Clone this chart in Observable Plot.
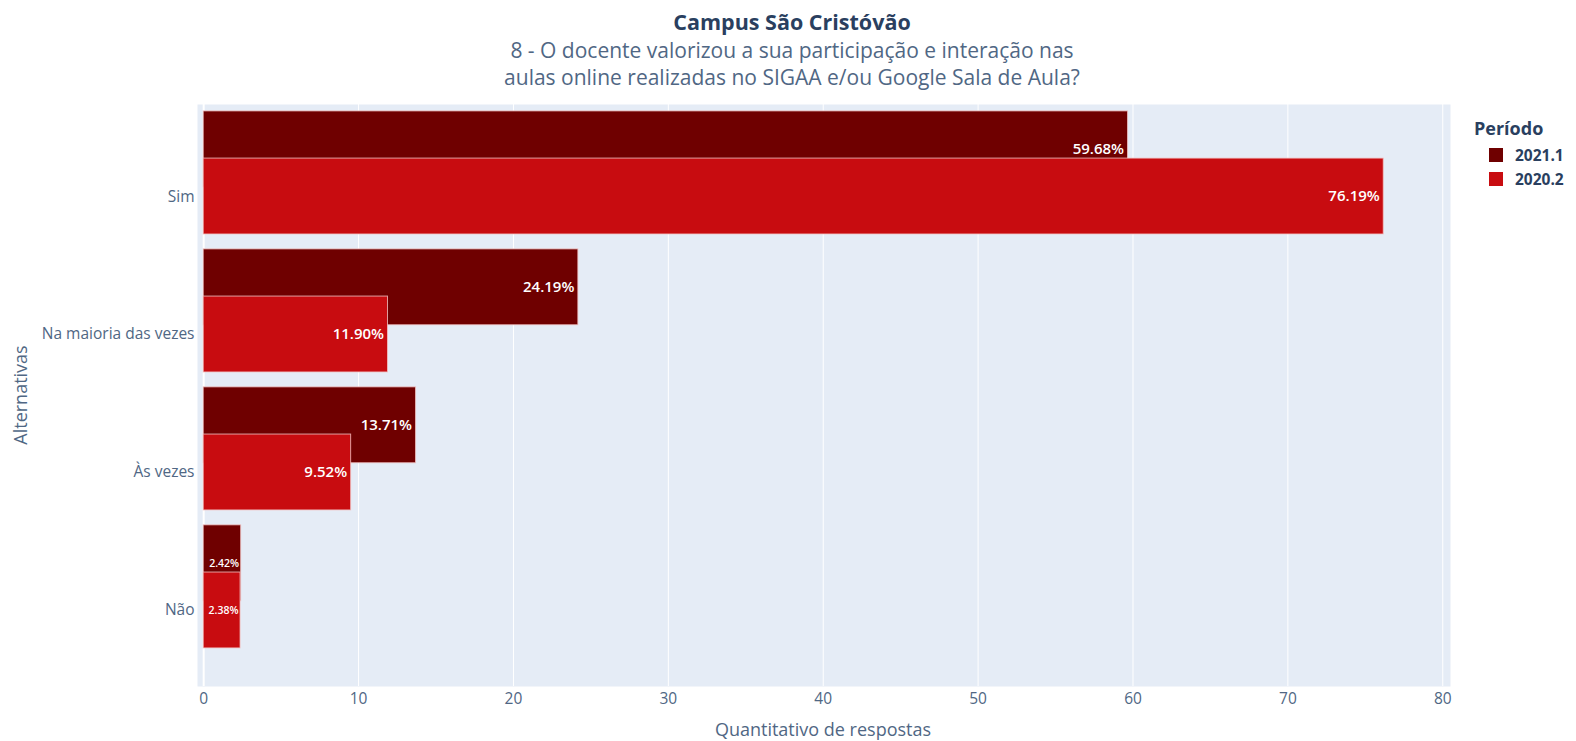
<!DOCTYPE html>
<html><head><meta charset="utf-8">
<script src="https://cdn.jsdelivr.net/npm/d3@7"></script>
<script src="https://cdn.jsdelivr.net/npm/@observablehq/plot@0.6"></script>
<style>
body{margin:0;background:#fff;font-family:"Open Sans",sans-serif;}
#wrap{position:relative;width:1576px;height:741px;overflow:hidden;}
#wrap svg{position:absolute;left:0;top:0;}
.t{position:absolute;white-space:nowrap;color:#2a3f5f;}
#title{left:0;width:1584px;text-align:center;top:8px;font-size:21.5px;line-height:28px;font-weight:bold;}
#sub{left:0;width:1584px;text-align:center;top:37px;font-size:21px;line-height:27px;color:#506784;}
#ylab{left:20px;top:395px;font-size:18px;line-height:24px;color:#506784;transform:translate(-50%,-50%) rotate(-90deg);}
#xlab{left:823px;top:717px;font-size:18px;line-height:24px;color:#506784;transform:translateX(-50%);}
#legend{left:1474px;top:114px;}
#legend .h{font-weight:bold;font-size:18px;line-height:29px;}
#legend .r{display:flex;align-items:center;height:24px;margin-left:15px;font-weight:bold;font-size:15.5px;}
#legend .s{width:14px;height:14px;margin-right:12px;}
</style></head><body><div id="wrap"></div>
<script>
const categories = ["Sim", "Na maioria das vezes", "Às vezes", "Não"];
const periods = ["2021.1", "2020.2"];
const values2021_1 = [59.68, 24.19, 13.71, 2.42];
const values2020_2 = [76.19, 11.90, 9.52, 2.38];
const xTicks = [0, 10, 20, 30, 40, 50, 60, 70, 80];
const colors = ["#6f0000", "#c80c10"];
const titleText = "Campus São Cristóvão";
const subtitleLines = ["8 - O docente valorizou a sua participação e interação nas", "aulas online realizadas no SIGAA e/ou Google Sala de Aula?"];
const xLabel = "Quantitativo de respostas";
const yLabel = "Alternativas";
const legendTitle = "Período";

// Bars: 2020.2 centred on category, 2021.1 shifted upward (overlapping, as in the original)
const barWidth = 0.55;
const offsets = {"2021.1": -0.342, "2020.2": 0};
const rows = [];
periods.forEach((p, k) => {
  const vals = k === 0 ? values2021_1 : values2020_2;
  categories.forEach((c, i) => {
    const center = i + offsets[p];
    rows.push({period: p, category: c, value: vals[i], y1: center - barWidth / 2, y2: center + barWidth / 2, yc: center});
  });
});
const fmt = d => d.value.toFixed(2) + "%";

const marks = [Plot.frame({fill: "#e5ecf6", stroke: null})];
marks.push(Plot.gridX(xTicks.filter(d => d > 0), {stroke: "#fff", strokeOpacity: 1, strokeWidth: 1}));
marks.push(Plot.ruleX([0], {stroke: "#fff", strokeWidth: 2}));
periods.forEach(p => {
  const d = rows.filter(r => r.period === p);
  marks.push(Plot.rectX(d, {x1: 0, x2: "value", y1: "y1", y2: "y2", fill: "period", stroke: "#f2c4c4", strokeOpacity: 0.8, strokeWidth: 1}));
  marks.push(Plot.text(d.filter(r => r.value >= 5), {x: "value", y: "yc", text: fmt, textAnchor: "end", dx: -4, fill: "#fff", fontSize: 15, fontWeight: 600}));
  marks.push(Plot.text(d.filter(r => r.value < 5), {x: "value", y: "yc", text: fmt, textAnchor: "end", dx: -2, fill: "#fff", fontSize: 10.5, fontWeight: 600}));
});
marks.push(Plot.axisX({ticks: xTicks, tickSize: 0, tickPadding: 6, label: null, fontSize: 15.5}));
marks.push(Plot.axisY({ticks: categories.map((c, i) => i), tickFormat: i => categories[i], tickSize: 0, tickPadding: 3, label: null, fontSize: 15.5}));

const chart = Plot.plot({
  width: 1576, height: 741,
  marginTop: 104, marginBottom: 55, marginLeft: 197, marginRight: 126,
  style: {fontFamily: "Open Sans", fontSize: "15px", color: "#506784", background: "transparent"},
  x: {domain: [-0.4, 80.5]},
  y: {domain: [3.551, -0.667]},
  color: {domain: periods, range: colors},
  marks
});
const wrap = document.getElementById("wrap");
wrap.appendChild(chart);
const add = (id, html) => { const e = document.createElement("div"); e.className = "t"; e.id = id; e.innerHTML = html; wrap.appendChild(e); return e; };
add("title", titleText);
add("sub", subtitleLines.join("<br>"));
add("ylab", yLabel);
add("xlab", xLabel);
add("legend", `<div class="h">${legendTitle}</div>` + periods.map((p, k) => `<div class="r"><div class="s" style="background:${colors[k]}"></div>${p}</div>`).join(""));
</script></body></html>
